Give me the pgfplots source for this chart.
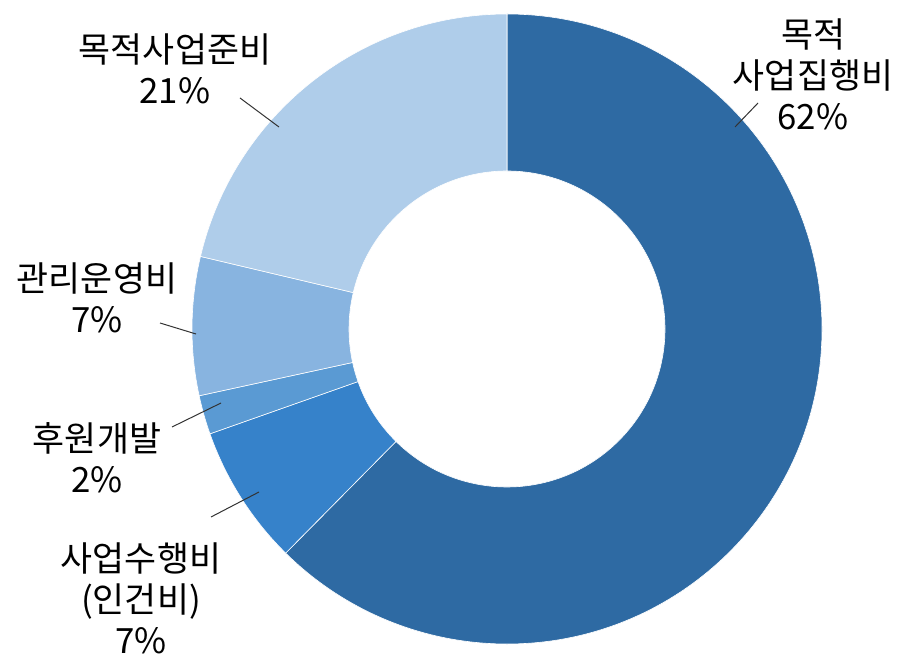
\documentclass[border=0pt]{standalone}
\usepackage{pgfplots}
\usepackage{pgfplotstable}
\pgfplotsset{compat=1.18}
\usepackage{fontspec}
\setmainfont{Noto Sans CJK KR}
\definecolor{cA}{HTML}{2E6AA3}
\definecolor{cB}{HTML}{3682CA}
\definecolor{cC}{HTML}{5A9AD3}
\definecolor{cD}{HTML}{88B4E0}
\definecolor{cE}{HTML}{AFCDEA}

% shares in percent, clockwise from 12 o'clock
\pgfplotstableread{
value
62.4
7.2
2.0
7.1
21.3
}\donut

% centre and radii in axis units (1 unit = 0.5pt)
\def\cx{507}\def\cy{340}\def\Ro{315}\def\Ri{158}

\xdef\acc{90}
\foreach \i/\n in {0/A,1/B,2/C,3/D,4/E}{%
  \pgfplotstablegetelem{\i}{value}\of\donut
  \pgfmathsetmacro\endang{\acc-3.6*\pgfplotsretval}
  \expandafter\xdef\csname s\n\endcsname{\acc}
  \expandafter\xdef\csname e\n\endcsname{\endang}
  \xdef\acc{\endang}
}

\newcommand\donutslice[3]{%
  \fill[#3, draw=white, line width=0.3pt]
    (axis cs:{\cx+\Ro*cos(#1)},{\cy+\Ro*sin(#1)})
    arc[start angle=#1, end angle=#2, radius=157.5pt]
    -- (axis cs:{\cx+\Ri*cos(#2)},{\cy+\Ri*sin(#2)})
    arc[start angle=#2, end angle=#1, radius=79pt] -- cycle;}

\begin{document}
\begin{tikzpicture}
\begin{axis}[
    width=454pt, height=334.5pt,
    scale only axis,
    xmin=0, xmax=908, ymin=0, ymax=669,
    hide axis, clip=false,
  ]
  \path (axis cs:0,0) rectangle (axis cs:908,669);
  \donutslice{\sA}{\eA}{cA}
  \donutslice{\sB}{\eB}{cB}
  \donutslice{\sC}{\eC}{cC}
  \donutslice{\sD}{\eD}{cD}
  \donutslice{\sE}{\eE}{cE}

  \draw[black!80, line width=0.5pt] (axis cs:735,542) -- (axis cs:758,566);
  \draw[black!80, line width=0.5pt] (axis cs:240,571) -- (axis cs:279,542);
  \draw[black!80, line width=0.5pt] (axis cs:160,346) -- (axis cs:196,335);
  \draw[black!80, line width=0.5pt] (axis cs:172,242) -- (axis cs:221,266);
  \draw[black!80, line width=0.5pt] (axis cs:211,152) -- (axis cs:259,177);

  \tikzset{lbl/.style={align=center, inner sep=0pt, font=\fontsize{17.4}{20.5}\selectfont}}
  \node[lbl] at (axis cs:813,595) {목적\\사업집행비\\62\%};
  \node[lbl] at (axis cs:175,600.5) {목적사업준비\\21\%};
  \node[lbl] at (axis cs:97,371.5) {관리운영비\\7\%};
  \node[lbl] at (axis cs:97,211.5) {후원개발\\2\%};
  \node[lbl] at (axis cs:141,71) {사업수행비\\(인건비)\\7\%};
\end{axis}
\end{tikzpicture}
\end{document}
